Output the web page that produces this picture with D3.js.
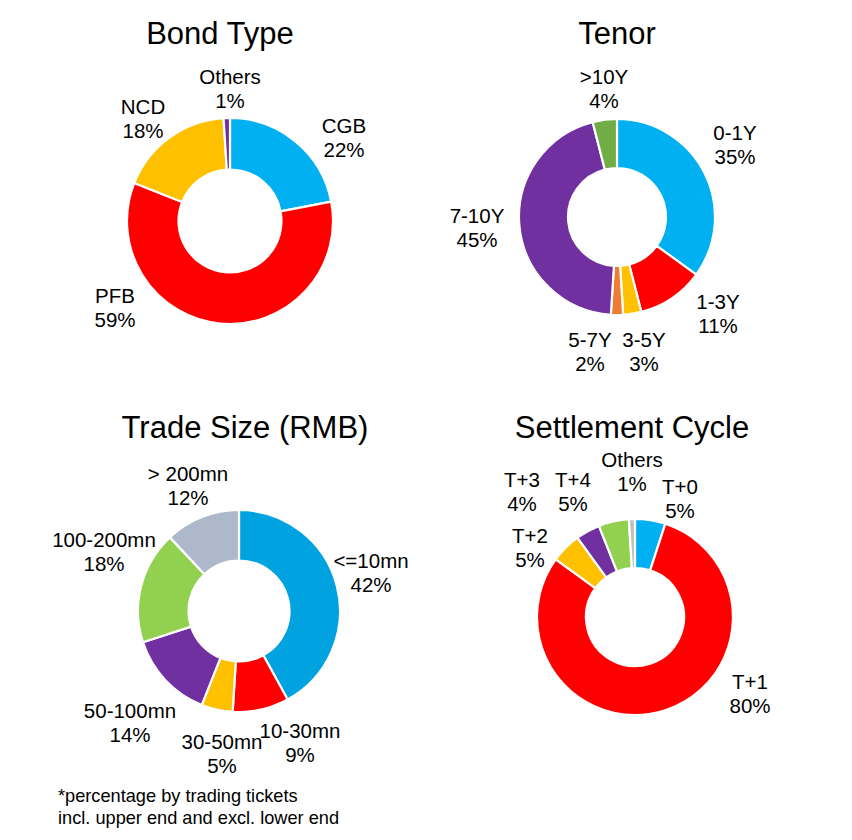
<!DOCTYPE html>
<html>
<head>
<meta charset="utf-8">
<script src="https://cdn.jsdelivr.net/npm/d3@7"></script>
<style>
  html, body { margin: 0; padding: 0; background: #fff; }
  svg { display: block; font-family: "Liberation Sans", Arial, sans-serif; }
  .title { font-size: 31px; fill: #000; text-anchor: middle; }
  .lbl { font-size: 20.5px; fill: #000; text-anchor: middle; }
  .note { font-size: 18.2px; fill: #000; }
</style>
</head>
<body>
<script>
/* Four donuts: trade breakdown by bond type, tenor, ticket size, settlement.
 * Slices run clockwise from 12 o'clock in the order given below. */

// ---- data --------------------------------------------------------------
const bondTypes   = ['CGB', 'PFB', 'NCD', 'Others'];
const bondShares  = [22, 59, 18, 1];
const bondColors  = ['#00B0F0', '#FF0000', '#FFC000', '#7030A0'];

const tenors       = ['0-1Y', '1-3Y', '3-5Y', '5-7Y', '7-10Y', '>10Y'];
const tenorShares  = [35, 11, 3, 2, 45, 4];
const tenorColors  = ['#00B0F0', '#FF0000', '#FFC000', '#ED7D31', '#7030A0', '#70AD47'];

const sizeBuckets  = ['<=10mn', '10-30mn', '30-50mn', '50-100mn', '100-200mn', '> 200mn'];
const sizeShares   = [42, 9, 5, 14, 18, 12];
const sizeColors   = ['#00A3E0', '#FF0000', '#FFC000', '#7030A0', '#92D050', '#ADB9CA'];

const cycles       = ['T+0', 'T+1', 'T+2', 'T+3', 'T+4', 'Others'];
const cycleShares  = [5, 80, 5, 4, 5, 1];
const cycleColors  = ['#00B0F0', '#FF0000', '#FFC000', '#7030A0', '#92D050', '#BFBFBF'];

const footnote = ['*percentage by trading tickets', 'incl. upper end and excl. lower end'];

// ---- layout (kept apart from the data) ---------------------------------
// label anchors are offsets from each donut's centre, as placed in the source
const panels = [
  { title: 'Bond Type', tx: 220, ty: 44, cx: 230, cy: 221, r: 103,
    names: bondTypes, values: bondShares, colors: bondColors,
    lab: [[114, -83], [-115, 87], [-87, -102], [0, -132]] },
  { title: 'Tenor', tx: 617, ty: 44, cx: 617, cy: 217, r: 98,
    names: tenors, values: tenorShares, colors: tenorColors,
    lab: [[118, -72], [101, 97], [27, 135], [-27, 135], [-140, 11], [-13, -128]] },
  { title: 'Trade Size (RMB)', tx: 245, ty: 438, cx: 239, cy: 611, r: 101,
    names: sizeBuckets, values: sizeShares, colors: sizeColors,
    lab: [[132, -38], [61, 132], [-17, 143], [-109, 112], [-135, -59], [-51, -125]] },
  { title: 'Settlement Cycle', tx: 632, ty: 438, cx: 635, cy: 617, r: 98,
    names: cycles, values: cycleShares, colors: cycleColors,
    lab: [[45, -118], [115, 77], [-105, -69], [-113, -125], [-62, -125], [-3, -145]] }
];

const W = 852, H = 840;
const svg = d3.select('body').append('svg').attr('width', W).attr('height', H);

const pie = d3.pie().sort(null).value(d => d.v);

panels.forEach(p => {
  const g = svg.append('g');

  g.append('text').attr('class', 'title')
    .attr('x', p.tx).attr('y', p.ty).text(p.title);

  const rows = p.names.map((n, i) => ({ n, v: p.values[i], c: p.colors[i], i }));
  const arc = d3.arc().innerRadius(p.r * 0.5).outerRadius(p.r);

  const donut = g.append('g').attr('transform', `translate(${p.cx},${p.cy})`);
  donut.selectAll('path')
    .data(pie(rows))
    .join('path')
    .attr('d', arc)
    .attr('fill', d => d.data.c)
    .attr('stroke', '#fff')
    .attr('stroke-width', 2.2)
    .attr('stroke-linejoin', 'round');

  const lbl = donut.selectAll('text.lbl')
    .data(rows)
    .join('text')
    .attr('class', 'lbl')
    .attr('transform', d => `translate(${p.lab[d.i][0]},${p.lab[d.i][1]})`);
  lbl.append('tspan').attr('x', 0).attr('y', -5).text(d => d.n);
  lbl.append('tspan').attr('x', 0).attr('y', 19).text(d => d3.format('.0f')(d.v) + '%');
});

// footnote under the trade-size donut
svg.append('text').attr('class', 'note')
  .attr('x', 58).attr('y', 802)
  .selectAll('tspan')
  .data(footnote)
  .join('tspan')
  .attr('x', 58)
  .attr('dy', (d, i) => i ? 22 : 0)
  .text(d => d);
</script>
</body>
</html>
